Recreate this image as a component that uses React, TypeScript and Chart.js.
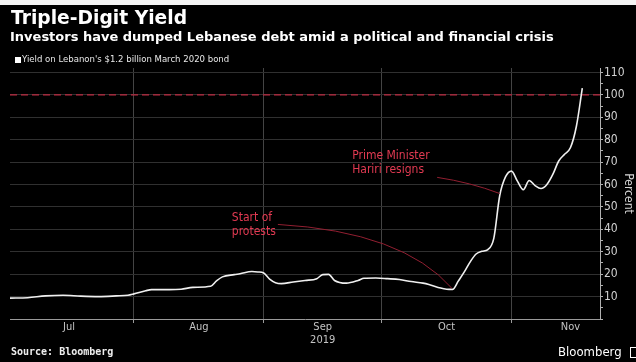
import React, { useEffect, useRef } from "react";
import { Chart, registerables } from "chart.js";

Chart.register(...registerables);

// ---- data (x = US bond-market trading day counted from Jul 1, 2019) ----
const tradingDay = [
  1, 4, 7, 10, 13, 16, 19, 21, 22, 24, 25, 28, 30, 32, 35, 36, 37, 39, 40, 42,
  43, 44, 45, 46, 47, 49, 51, 53, 54, 55, 56, 58, 60, 61, 63, 65, 67, 69, 71,
  72, 74, 75, 76, 77, 78, 79, 80, 81, 82, 83, 84, 85, 86, 87, 88, 89, 90, 91,
  92, 93, 94, 95, 96, 97, 98,
];
const yieldPct = [
  9.3, 9.5, 10.3, 10.6, 10.2, 10.0, 10.3, 10.6, 11.2, 12.6, 13.1, 13.1, 13.3,
  14.1, 14.6, 17.0, 18.8, 19.8, 20.2, 21.2, 21.0, 20.5, 17.8, 16.2, 15.8, 16.5,
  17.2, 18.0, 19.8, 19.9, 17.2, 16.0, 17.2, 18.2, 18.3, 18.0, 17.6, 16.7, 16.0,
  15.4, 13.8, 13.3, 13.2, 17.0, 21.0, 25.5, 29.0, 30.2, 31.0, 36.0, 55.0, 63.5,
  66.0, 61.5, 57.7, 61.8, 59.5, 58.2, 60.0, 64.5, 70.5, 73.5, 76.5, 86.0, 103.0,
];
const monthBoundaries = [22, 44, 64, 86];
const monthCenters = [11, 33, 54, 75, 96];
const monthLabels = ["Jul", "Aug", "Sep", "Oct", "Nov"];
const yearLabel = "2019";
const yearUnderMonth = "Sep";
const yMajorTicks = [10, 20, 30, 40, 50, 60, 70, 80, 90, 100, 110];
const thresholdValue = 100;

const titleText = "Triple-Digit Yield";
const subtitleText =
  "Investors have dumped Lebanese debt amid a political and financial crisis";
const legendText = "Yield on Lebanon's $1.2 billion March 2020 bond";
const sourceText = "Source: Bloomberg";
const axisTitle = "Percent";

const annotations = [
  { lines: ["Prime Minister", "Hariri resigns"], textAt: [59, 73], from: [73.4, 63.2], to: [84, 56], bend: [79, 61] },
  { lines: ["Start of", "protests"], textAt: [38.6, 45], from: [46.4, 42.2], to: [75.9, 13.7], bend: [67.5, 39] },
];

const FONT = '"DejaVu Sans Condensed", "DejaVu Sans", sans-serif';
const RED_TEXT = "#e23a52";
const RED_LINE = "#921f31";

const overlayPlugin = {
  id: "overlay",
  beforeDatasetsDraw(chart: any) {
    const { ctx, chartArea, scales } = chart;
    const y = scales.y.getPixelForValue(thresholdValue);
    ctx.save();
    ctx.strokeStyle = "#bd2b42";
    ctx.lineWidth = 1.2;
    ctx.setLineDash([7, 4]);
    ctx.beginPath();
    ctx.moveTo(chartArea.left, y);
    ctx.lineTo(chartArea.right, y);
    ctx.stroke();
    ctx.restore();
  },
  afterDatasetsDraw(chart: any) {
    const { ctx, scales } = chart;
    const px = (v: number) => scales.x.getPixelForValue(v);
    const py = (v: number) => scales.y.getPixelForValue(v);
    ctx.save();
    for (const a of annotations) {
      ctx.strokeStyle = RED_LINE;
      ctx.lineWidth = 1;
      ctx.beginPath();
      ctx.moveTo(px(a.from[0]), py(a.from[1]));
      ctx.quadraticCurveTo(px(a.bend[0]), py(a.bend[1]), px(a.to[0]), py(a.to[1]));
      ctx.stroke();
      ctx.fillStyle = RED_TEXT;
      ctx.font = `12px ${FONT}`;
      ctx.textBaseline = "middle";
      ctx.textAlign = "left";
      a.lines.forEach((l, i) => {
        ctx.fillText(l, px(a.textAt[0]), py(a.textAt[1]) + i * 14);
      });
    }
    ctx.restore();
  },
};

export default function App() {
  const ref = useRef<HTMLCanvasElement>(null);
  useEffect(() => {
    const chart = new Chart(ref.current!, {
      type: "line",
      data: {
        datasets: [
          {
            data: tradingDay.map((d, i) => ({ x: d, y: yieldPct[i] })),
            borderColor: "#f0f0f0",
            borderWidth: 1.6,
            pointRadius: 0,
            cubicInterpolationMode: "monotone",
          },
        ],
      },
      options: {
        animation: false,
        responsive: false,
        layout: { padding: { left: 10, right: 0, top: 68, bottom: 13 } },
        plugins: { legend: { display: false }, tooltip: { enabled: false } },
        scales: {
          x: {
            type: "linear",
            min: 1,
            max: 101,
            afterBuildTicks: (axis: any) => {
              axis.ticks = [...monthBoundaries, ...monthCenters]
                .sort((a, b) => a - b)
                .map((v) => ({ value: v }));
            },
            afterFit: (s: any) => {
              s.height = 30;
            },
            ticks: {
              autoSkip: false,
              maxRotation: 0,
              padding: -2,
              color: "#c4c4c4",
              font: { family: FONT, size: 11, lineHeight: 1.15 },
              callback: (v: any) => {
                const i = monthCenters.indexOf(v);
                if (i < 0) return "";
                return monthLabels[i] === yearUnderMonth ? [monthLabels[i], yearLabel] : monthLabels[i];
              },
            },
            grid: {
              color: (c: any) => (c.tick && monthBoundaries.includes(c.tick.value) ? "#444" : "transparent"),
              tickColor: (c: any) => (c.tick && monthBoundaries.includes(c.tick.value) ? "#9a9a9a" : "transparent"),
              tickLength: 4,
            },
            border: { color: "#9a9a9a" },
          },
          y: {
            position: "right",
            min: 0,
            max: 112,
            afterBuildTicks: (axis: any) => {
              const t: any[] = [];
              for (let v = 0; v <= 110; v += 5) t.push({ value: v });
              axis.ticks = t;
            },
            afterFit: (s: any) => {
              s.width = 36;
            },
            ticks: {
              autoSkip: false,
              padding: 1,
              color: "#d2d2d2",
              font: { family: FONT, size: 12 },
              callback: (v: any) => (yMajorTicks.includes(v) ? String(v) : ""),
            },
            grid: {
              color: (c: any) => (c.tick && yMajorTicks.includes(c.tick.value) ? "#303030" : "transparent"),
              tickColor: "#b0b0b0",
              tickLength: 3,
            },
            border: { color: "#b0b0b0" },
            title: {
              display: true,
              text: axisTitle,
              color: "#d2d2d2",
              font: { family: FONT, size: 12 },
              padding: { top: 1, bottom: 0 },
            },
          },
        },
      },
      plugins: [overlayPlugin],
    } as any);
    return () => chart.destroy();
  }, []);

  return (
    <div style={{ position: "absolute", left: 0, top: 0, width: 636, height: 362, background: "#000", overflow: "hidden" }}>
      <div style={{ position: "absolute", left: 0, top: 0, width: 636, height: 5, background: "#f4f4f4" }} />
      <canvas ref={ref} width={636} height={362} style={{ position: "absolute", left: 0, top: 0, width: 636, height: 362 }} />
      <div style={{ position: "absolute", left: 11, top: 7, color: "#fff", font: `bold 18.7px "DejaVu Sans", sans-serif`, whiteSpace: "nowrap" }}>{titleText}</div>
      <div style={{ position: "absolute", left: 10, top: 29, color: "#fff", font: `bold 13px "DejaVu Sans", sans-serif`, whiteSpace: "nowrap" }}>{subtitleText}</div>
      <div style={{ position: "absolute", left: 15, top: 57, width: 6, height: 6, background: "#fff" }} />
      <div style={{ position: "absolute", left: 22, top: 53, color: "#e8e8e8", font: `9.5px ${FONT}`, whiteSpace: "nowrap" }}>{legendText}</div>
      <div style={{ position: "absolute", left: 11, top: 346, color: "#eee", font: `bold 10px "DejaVu Sans Mono", monospace`, whiteSpace: "nowrap" }}>{sourceText}</div>
      <div style={{ position: "absolute", left: 558, top: 344, color: "#fff", font: `13px "DejaVu Sans Condensed", "DejaVu Sans", sans-serif`, whiteSpace: "nowrap" }}>Bloomberg</div>
      <div style={{ position: "absolute", left: 630, top: 347, width: 10, height: 11, border: "1.5px solid #fff", boxSizing: "border-box" }} />
    </div>
  );
}
